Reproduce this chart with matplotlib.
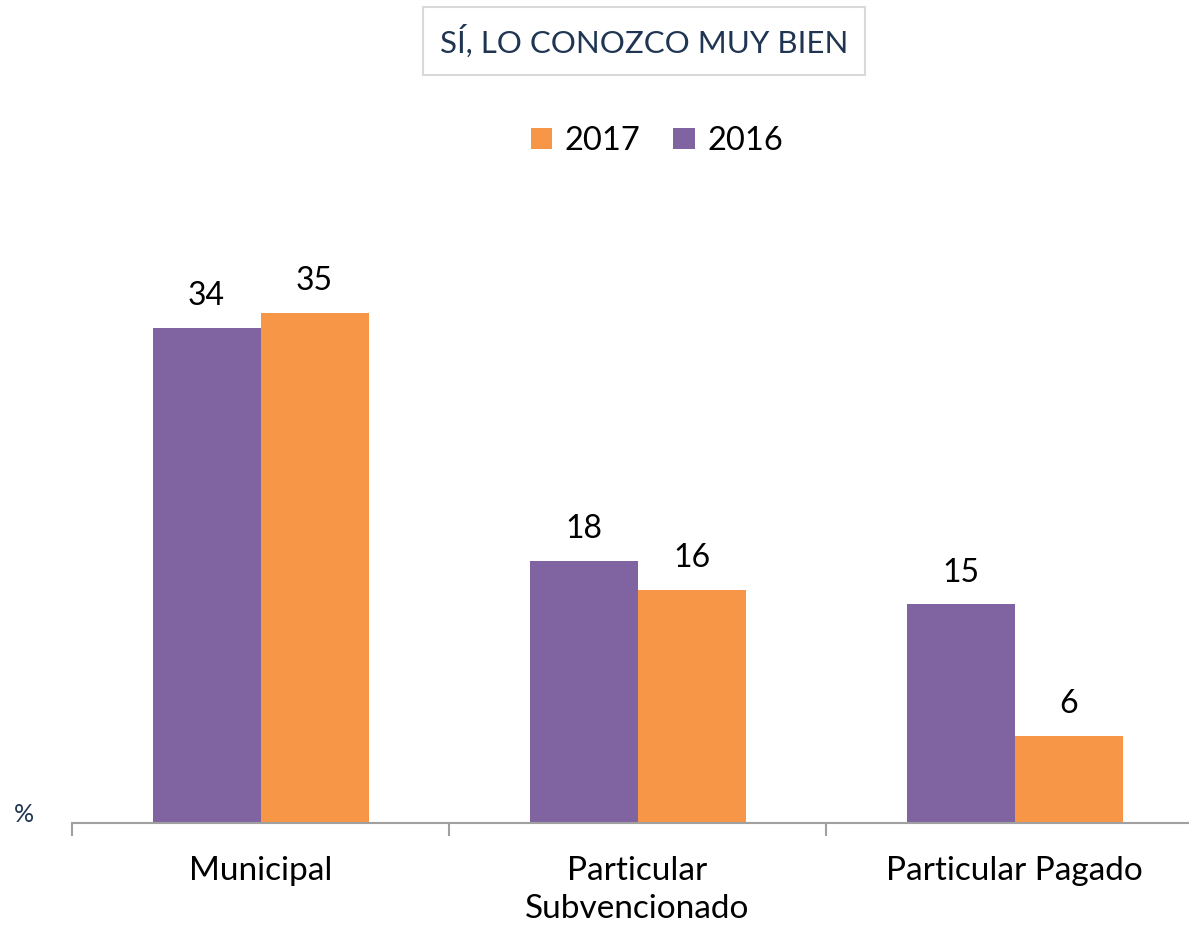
import matplotlib

matplotlib.use("Agg")
import matplotlib.pyplot as plt
import numpy as np
from matplotlib.patches import Patch

# data
categories = ["Municipal", "Particular\nSubvencionado", "Particular Pagado"]
values_2016 = [34, 18, 15]
values_2017 = [35, 16, 6]

PURPLE = "#8064A2"
ORANGE = "#F79646"
NAVY = "#1F3552"
GRAY = "#A0A0A0"

plt.rcParams["font.family"] = ["Lato", "DejaVu Sans"]

W, H = 1189, 933
fig = plt.figure(figsize=(W / 100, H / 100), dpi=100)
# axes spans x 72..1203 px, baseline at y=823 px
ax = fig.add_axes([72 / W, (H - 823) / H, 1131 / W, 723 / H])

x = np.arange(len(categories))
bw = 108 / 377
b16 = ax.bar(x - bw / 2, values_2016, bw, color=PURPLE)
b17 = ax.bar(x + bw / 2, values_2017, bw, color=ORANGE)

for bars in (b16, b17):
    for rect in bars:
        ax.annotate(f"{rect.get_height():.0f}",
                    (rect.get_x() + rect.get_width() / 2, rect.get_height()),
                    xytext=(0, 12), textcoords="offset points",
                    ha="center", va="bottom", fontsize=23, color="black")

ax.set_xlim(-0.5, len(categories) - 0.5)
ax.set_ylim(0, 723 / 14.57)

for side in ("top", "right", "left"):
    ax.spines[side].set_visible(False)
ax.spines["bottom"].set_color(GRAY)
ax.spines["bottom"].set_linewidth(1.5)
ax.set_yticks([])

# group separators as major ticks, category names as minor ticks
ax.set_xticks(np.arange(-0.5, len(categories)))
ax.set_xticklabels([])
ax.tick_params(axis="x", which="major", length=9, width=1.5, color=GRAY, direction="out")
ax.set_xticks(x, minor=True)
ax.set_xticklabels(categories, minor=True, fontsize=24, linespacing=1.3, va="top")
ax.tick_params(axis="x", which="minor", length=0, pad=24)

fig.text(24 / W, 1 - 815 / H, "%", ha="center", va="center", fontsize=18, color=NAVY)

# title box
fig.text(644 / W, 1 - 41 / H, "SÍ, LO CONOZCO MUY BIEN", ha="center", va="center",
         fontsize=22.5, color=NAVY,
         bbox=dict(boxstyle="square,pad=0.55", facecolor="white", edgecolor="#D9D9D9", linewidth=1.5))

handles = [Patch(facecolor=ORANGE), Patch(facecolor=PURPLE)]
fig.legend(handles, ["2017", "2016"], loc="center", bbox_to_anchor=(657 / W, 1 - 141 / H),
           ncol=2, frameon=False, fontsize=23.5, handlelength=0.65, handleheight=0.65,
           handletextpad=0.4, columnspacing=1.0)

fig.savefig("out.png", dpi=100)
